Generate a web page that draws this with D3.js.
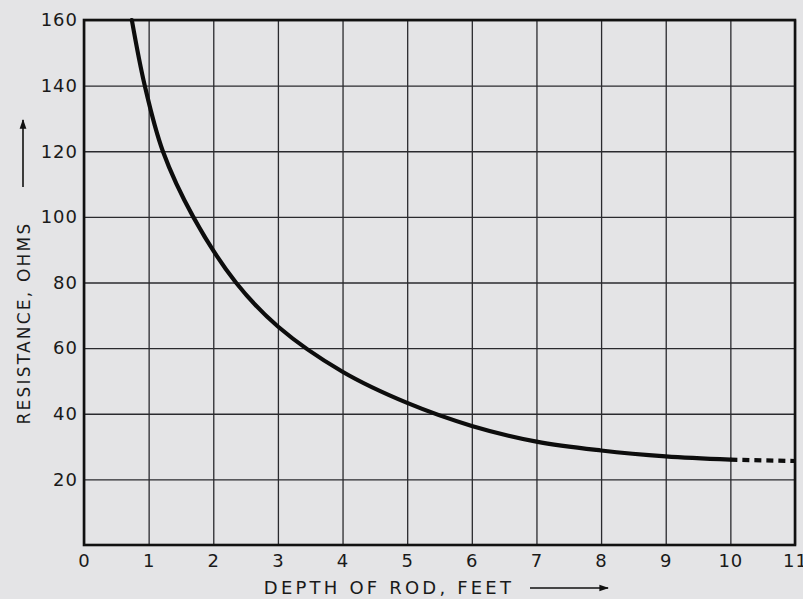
<!DOCTYPE html>
<html>
<head>
<meta charset="utf-8">
<script src="https://cdn.jsdelivr.net/npm/d3@7"></script>
<style>
  body { margin: 0; background: #e4e4e6; }
  svg { display: block; }
  text { font-family: "DejaVu Sans", sans-serif; fill: #1a1a1a; }
</style>
</head>
<body>
<svg id="chart"></svg>
<script>
// depth of rod (feet) and resistance (ohms)
var depth = [0.74, 0.94, 1.22, 1.69, 2.35, 3, 4, 5, 6, 7, 8, 9, 10];
var resistance = [160, 140, 120, 100, 80, 66.6, 52.8, 43.3, 36.3, 31.5, 28.8, 27, 26];
// dashed extrapolation beyond 10 ft
var depthExt = [10, 11];
var resistanceExt = [26, 25.6];

var xTicks = [0, 1, 2, 3, 4, 5, 6, 7, 8, 9, 10, 11];
var yTicks = [20, 40, 60, 80, 100, 120, 140, 160];

var W = 803, H = 599,
	margin = {top: 20, right: 8, bottom: 54, left: 84},
	width = W - margin.left - margin.right,
	height = H - margin.top - margin.bottom;

var svg = d3.select("#chart")
	.attr("width", W)
	.attr("height", H);

var g = svg.append("g")
	.attr("transform", "translate(" + margin.left + "," + margin.top + ")");

var x = d3.scaleLinear().domain([0, 11]).range([0, width]);
var y = d3.scaleLinear().domain([0, 160]).range([height, 0]);

// vertical grid + x labels
var xAxis = g.append("g")
	.attr("transform", "translate(0," + height + ")")
	.call(d3.axisBottom(x).tickValues(xTicks).tickSize(-height).tickPadding(9).tickFormat(d3.format("d")));
xAxis.select(".domain").remove();
xAxis.selectAll("line").attr("stroke", "#2a2a2e").attr("stroke-width", 1.3);
xAxis.selectAll("text")
	.attr("font-size", 18)
	.attr("letter-spacing", 1)
	.attr("fill", "#1a1a1a");

// horizontal grid + y labels
var yAxis = g.append("g")
	.call(d3.axisLeft(y).tickValues(yTicks).tickSize(-width).tickPadding(6).tickFormat(d3.format("d")));
yAxis.select(".domain").remove();
yAxis.selectAll("line").attr("stroke", "#2a2a2e").attr("stroke-width", 1.3);
yAxis.selectAll("text")
	.attr("font-size", 18)
	.attr("letter-spacing", 1)
	.attr("fill", "#1a1a1a");

// frame
g.append("rect")
	.attr("x", x(0))
	.attr("y", y(160))
	.attr("width", x(11) - x(0))
	.attr("height", y(0) - y(160))
	.attr("fill", "none")
	.attr("stroke", "#111")
	.attr("stroke-width", 2.6);

var pts = depth.map(function(d, i){ return [d, resistance[i]]; });
var ptsExt = depthExt.map(function(d, i){ return [d, resistanceExt[i]]; });

var line = d3.line()
	.x(function(d){ return x(d[0]); })
	.y(function(d){ return y(d[1]); })
	.curve(d3.curveCatmullRom.alpha(0.5));

g.append("path")
	.datum(pts)
	.attr("d", line)
	.attr("fill", "none")
	.attr("stroke", "#0d0d0d")
	.attr("stroke-width", 4.2)
	.attr("stroke-linecap", "round");

g.append("path")
	.datum(ptsExt)
	.attr("d", line)
	.attr("fill", "none")
	.attr("stroke", "#0d0d0d")
	.attr("stroke-width", 4.2)
	.attr("stroke-dasharray", "7,5");

// axis titles with arrows
svg.append("defs").append("marker")
	.attr("id", "arrow")
	.attr("viewBox", "0 0 10 10")
	.attr("refX", 9).attr("refY", 5)
	.attr("markerWidth", 6).attr("markerHeight", 6)
	.attr("orient", "auto")
	.append("path")
	.attr("d", "M0,1.5 L10,5 L0,8.5 Z")
	.attr("fill", "#111");

svg.append("text")
	.attr("x", 389)
	.attr("y", 594)
	.attr("text-anchor", "middle")
	.attr("font-size", 18)
	.attr("letter-spacing", 3.2)
	.text("DEPTH OF ROD, FEET");

svg.append("line")
	.attr("x1", 530).attr("y1", 588)
	.attr("x2", 608).attr("y2", 588)
	.attr("stroke", "#111")
	.attr("stroke-width", 1.6)
	.attr("marker-end", "url(#arrow)");

svg.append("text")
	.attr("transform", "translate(30,323) rotate(-90)")
	.attr("text-anchor", "middle")
	.attr("font-size", 17)
	.attr("letter-spacing", 2.2)
	.text("RESISTANCE, OHMS");

svg.append("line")
	.attr("x1", 23).attr("y1", 187)
	.attr("x2", 23).attr("y2", 120)
	.attr("stroke", "#111")
	.attr("stroke-width", 1.6)
	.attr("marker-end", "url(#arrow)");
</script>
</body>
</html>
